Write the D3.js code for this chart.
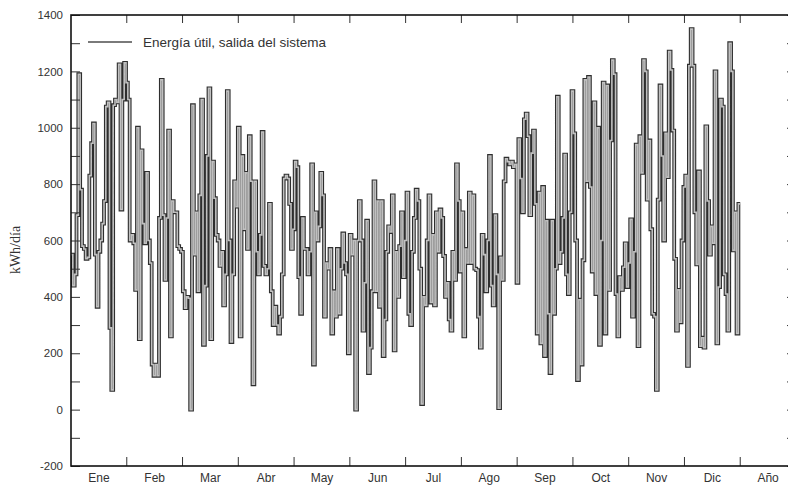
<!DOCTYPE html>
<html>
<head>
<meta charset="utf-8">
<script src="https://cdn.jsdelivr.net/npm/d3@7"></script>
<style>
    body { margin: 0; background: #fff; }
    text { font-family: "Liberation Sans Narrow", "Liberation Sans", Arial, sans-serif; fill: #333; }
</style>
</head>
<body>
<svg width="788" height="486"></svg>
<script>

    // Categorias del eje x y marcas del eje y
    var meses = ["Ene", "Feb", "Mar", "Abr", "May", "Jun", "Jul", "Ago", "Sep", "Oct", "Nov", "Dic", "Año"];
    var yTicks = d3.range(-200, 1401, 100);

    // Energia util diaria (kWh/dia), un array por mes
    var ene = [550, 440, 480, 690, 1190, 780, 580, 570, 535, 540, 830, 945, 1015, 550, 365, 560, 600, 660, 740, 1075, 1090, 290, 70, 1080, 1100, 1090, 1225, 710, 1100, 1230, 1160];
    var feb = [1100, 600, 620, 590, 425, 1000, 250, 920, 660, 590, 840, 600, 520, 160, 120, 160, 120, 680, 1170, 690, 460, 680, 990, 260, 740, 700, 700, 580];
    var mar = [570, 560, 420, 360, 400, 395, 0, 1080, 550, 700, 420, 760, 1100, 230, 440, 900, 1140, 250, 880, 750, 620, 600, 510, 560, 370, 480, 1130, 600, 240, 480, 810];
    var abr = [720, 1000, 260, 900, 640, 840, 570, 970, 810, 90, 810, 560, 480, 620, 985, 510, 480, 500, 730, 420, 300, 365, 300, 270, 330, 480, 820, 830, 820, 730];
    var may = [570, 640, 880, 860, 470, 340, 680, 570, 570, 480, 560, 870, 160, 700, 600, 650, 840, 760, 330, 520, 500, 570, 270, 420, 330, 570, 340, 500, 625, 520, 480];
    var jun = [200, 620, 550, 600, 0, 600, 740, 600, 280, 450, 670, 130, 220, 420, 810, 420, 740, 365, 740, 190, 320, 560, 650, 630, 760, 210, 560, 400, 580, 700];
    var jul = [470, 600, 770, 340, 300, 560, 680, 780, 740, 500, 20, 400, 370, 600, 760, 380, 620, 370, 700, 560, 710, 680, 545, 400, 450, 320, 280, 560, 460, 870, 740];
    var ago = [490, 700, 260, 570, 520, 770, 520, 760, 500, 495, 330, 220, 620, 550, 420, 600, 900, 440, 370, 690, 480, 5, 540, 460, 810, 890, 880, 870, 880, 860, 870];
    var sep = [450, 960, 820, 700, 1030, 1050, 970, 690, 910, 990, 730, 270, 770, 235, 790, 190, 670, 340, 130, 670, 340, 500, 1110, 520, 560, 680, 905, 480, 410, 700];
    var oct = [1130, 980, 600, 105, 390, 160, 530, 1170, 810, 1180, 790, 490, 1090, 410, 1000, 230, 600, 1160, 270, 1150, 425, 955, 1240, 1190, 410, 260, 470, 425, 505, 590, 435];
    var nov = [520, 675, 330, 560, 940, 225, 970, 840, 1240, 1200, 745, 955, 640, 340, 330, 70, 745, 1150, 900, 600, 980, 825, 1270, 1205, 990, 535, 280, 425, 310, 600];
    var dic = [790, 830, 155, 1220, 1350, 1220, 700, 515, 845, 225, 255, 220, 1005, 740, 550, 650, 590, 1200, 235, 435, 1100, 1075, 480, 410, 280, 1300, 1200, 565, 700, 270, 730];

    var energia = [].concat(ene, feb, mar, abr, may, jun, jul, ago, sep, oct, nov, dic);

    var svg = d3.select("svg"),
        x0 = 71, x1 = 796, y0 = 15, y1 = 466;

    var xb = d3.scaleBand().domain(meses).range([x0, x1]);
    var xd = d3.scaleLinear().domain([0, energia.length]).range([x0, xb("Año")]);
    var y = d3.scaleLinear().domain([-200, 1400]).range([y1, y0]);

    // Serie escalonada: un peldaño por dia
    var puntos = energia.map(function(v, i) { return [i, v]; });
    puntos.push([energia.length, energia[energia.length - 1]]);

    var line = d3.line()
        .x(function(d) { return xd(d[0]); })
        .y(function(d) { return y(d[1]); })
        .curve(d3.curveStepAfter);

    // Trazo doble: contorno oscuro y relleno gris
    var g = svg.append("g");
    g.append("path").datum(puntos)
        .attr("d", line)
        .attr("fill", "none")
        .attr("stroke", "#2e2e2e")
        .attr("stroke-width", 3.8);
    g.append("path").datum(puntos)
        .attr("d", line)
        .attr("fill", "none")
        .attr("stroke", "#c0c0c0")
        .attr("stroke-width", 1.6);

    // Eje y izquierdo (marcas hacia dentro)
    var yAxis = svg.append("g")
        .attr("transform", "translate(" + x0 + ",0)")
        .call(d3.axisLeft(y).tickValues(yTicks).tickSize(-9).tickPadding(8)
            .tickFormat(function(d) { return d % 200 === 0 ? d : ""; }));
    yAxis.select(".domain").remove();
    yAxis.selectAll("line").attr("stroke", "#333");
    yAxis.selectAll("text").attr("font-size", 11.5).attr("fill", "#333");

    // Eje y derecho
    var yAxisR = svg.append("g")
        .attr("transform", "translate(" + x1 + ",0)")
        .call(d3.axisRight(y).tickValues(yTicks).tickSize(-9).tickFormat(""));
    yAxisR.select(".domain").remove();
    yAxisR.selectAll("line").attr("stroke", "#333");

    // Eje x: etiquetas centradas en las bandas, marcas en los limites
    var xAxis = svg.append("g")
        .attr("transform", "translate(0," + y1 + ")")
        .call(d3.axisBottom(xb).tickSize(0).tickPadding(7));
    xAxis.select(".domain").remove();
    xAxis.selectAll("text").attr("font-size", 12).attr("fill", "#333");

    var limites = meses.slice(1);
    svg.selectAll(".tb").data(limites).enter().append("line")
        .attr("x1", function(d) { return xb(d); })
        .attr("x2", function(d) { return xb(d); })
        .attr("y1", y1).attr("y2", y1 - 9)
        .attr("stroke", "#333");
    svg.selectAll(".tt").data(limites).enter().append("line")
        .attr("x1", function(d) { return xb(d); })
        .attr("x2", function(d) { return xb(d); })
        .attr("y1", y0).attr("y2", y0 + 8)
        .attr("stroke", "#333");

    // Marco
    svg.append("rect")
        .attr("x", x0).attr("y", y0)
        .attr("width", x1 - x0).attr("height", y1 - y0)
        .attr("fill", "none")
        .attr("stroke", "#111")
        .attr("stroke-width", 1.6);

    // Titulo del eje y
    svg.append("text")
        .attr("transform", "translate(20,250) rotate(-90)")
        .attr("text-anchor", "middle")
        .style("font-family", "'Liberation Serif', 'DejaVu Serif', serif")
        .attr("font-size", 14)
        .text("kWh/día");

    // Leyenda
    svg.append("line")
        .attr("x1", 88).attr("x2", 132).attr("y1", 42).attr("y2", 42)
        .attr("stroke", "#7a7a7a").attr("stroke-width", 2.2);
    svg.append("text")
        .attr("x", 143).attr("y", 46.5)
        .attr("font-size", 13.5)
        .text("Energía útil, salida del sistema");

</script>
</body>
</html>
